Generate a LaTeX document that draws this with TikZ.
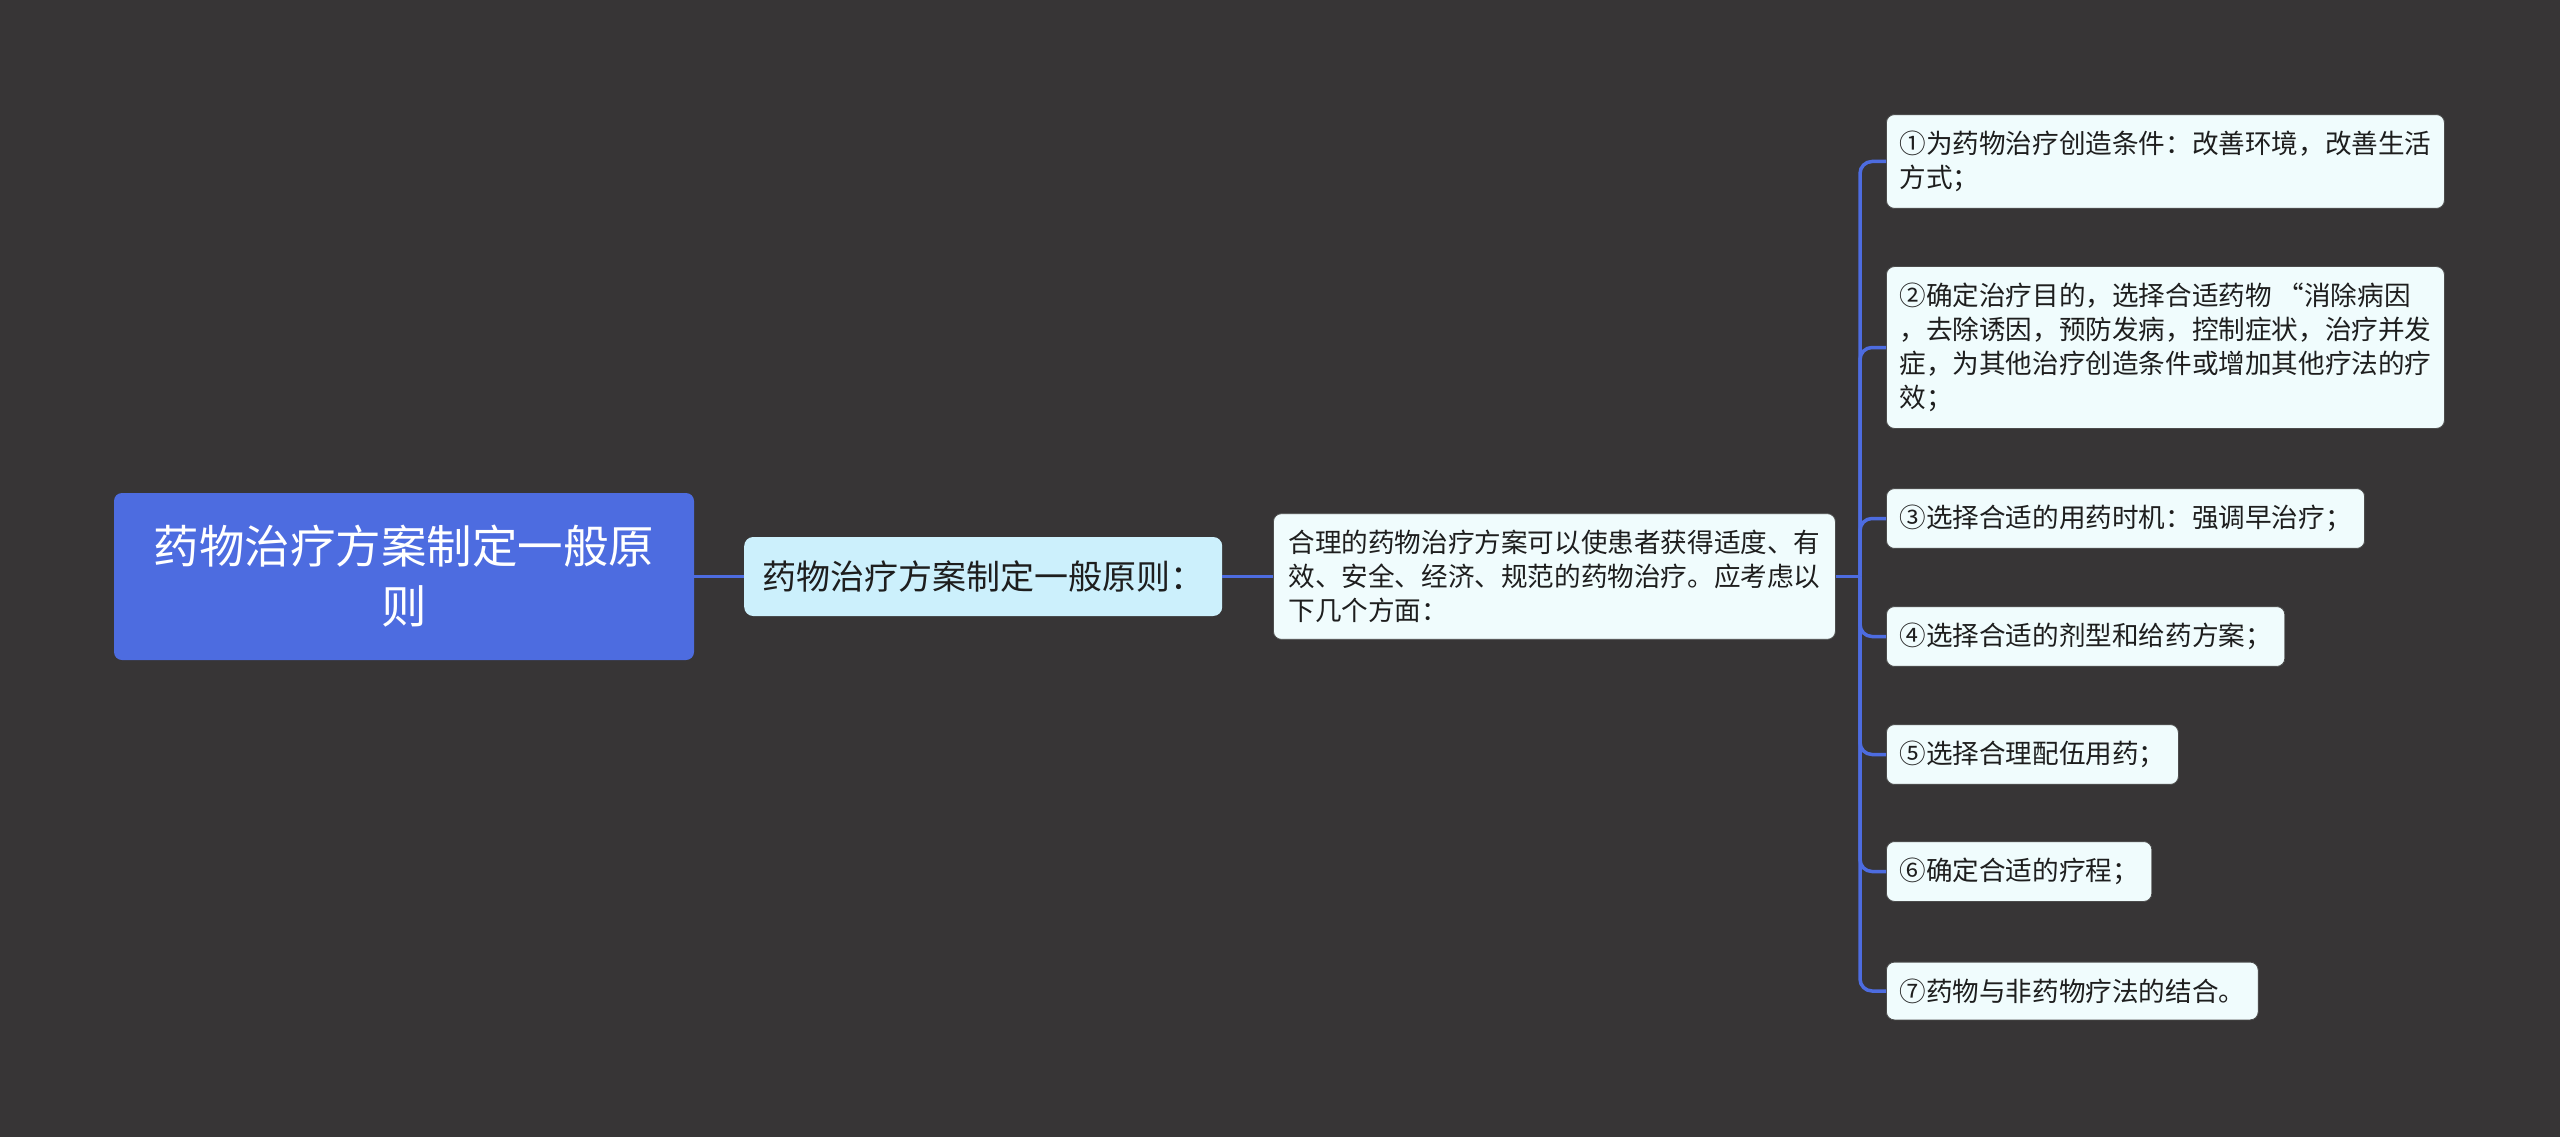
\documentclass[tikz,border=0pt]{standalone}
\usepackage{fontspec}
\newfontfamily\cjk{Noto Sans CJK SC}
\definecolor{bgc}{RGB}{55,53,54}
\definecolor{rootc}{RGB}{77,108,224}
\definecolor{linec}{RGB}{77,108,224}
\definecolor{subc}{RGB}{204,240,252}
\definecolor{leafc}{RGB}{240,252,253}
\definecolor{txtc}{RGB}{30,30,30}
\tikzset{
  rootbox/.style={rectangle, rounded corners=8pt, fill=rootc, text=white,
    font=\cjk\fontsize{45.5}{60}\selectfont, align=center,
    minimum width=580pt, minimum height=167pt, inner sep=0pt},
  subbox/.style={rectangle, rounded corners=9pt, fill=subc, text=txtc,
    font=\cjk\fontsize{34}{42}\selectfont, inner xsep=18pt, inner ysep=0pt,
    minimum height=79pt, anchor=west},
  leafbox/.style={rectangle, rounded corners=8pt, fill=leafc, text=txtc,
    draw=black!70, line width=0.8pt,
    font=\cjk\fontsize{26.6}{34}\selectfont, align=left,
    inner xsep=13pt, inner ysep=16.5pt, anchor=west},
  conn/.style={draw=linec, line width=3.5pt, rounded corners=12pt}
}
\begin{document}
\begin{tikzpicture}[x=1pt,y=-1pt]
\fill[bgc] (0,0) rectangle (2560,1137);
\useasboundingbox (0,0) rectangle (2560,1137);

\node[rootbox] (root) at (404,576.5) {药物治疗方案制定一般原\\则};
\node[subbox] (sub) at (744,576.5) {药物治疗方案制定一般原则：};
\node[leafbox, inner xsep=15pt] (mid) at (1273,576.5) {合理的药物治疗方案可以使患者获得适度、有\\效、安全、经济、规范的药物治疗。应考虑以\\下几个方面：};

\node[leafbox] (l1) at (1886,161.5) {①为药物治疗创造条件：改善环境，改善生活\\方式；};
\node[leafbox] (l2) at (1886,347.5) {②确定治疗目的，选择合适药物 “消除病因\\，去除诱因，预防发病，控制症状，治疗并发\\症，为其他治疗创造条件或增加其他疗法的疗\\效；};
\node[leafbox] (l3) at (1886,518.5) {③选择合适的用药时机：强调早治疗；};
\node[leafbox] (l4) at (1886,636.5) {④选择合适的剂型和给药方案；};
\node[leafbox] (l5) at (1886,754.5) {⑤选择合理配伍用药；};
\node[leafbox] (l6) at (1886,871.5) {⑥确定合适的疗程；};
\node[leafbox] (l7) at (1886,991) {⑦药物与非药物疗法的结合。};

\coordinate (trunk) at (1860,576.5);

\begin{scope}[on background layer/.try]
\end{scope}
\draw[conn] (root.east) -- (sub.west);
\draw[conn] (sub.east) -- (mid.west);
\draw[conn] (mid.east) -- (trunk);
\foreach \n in {l1,l2,l3,l4,l5,l6,l7}{
  \draw[conn] (trunk) |- (\n.west);
}
\end{tikzpicture}
\end{document}
